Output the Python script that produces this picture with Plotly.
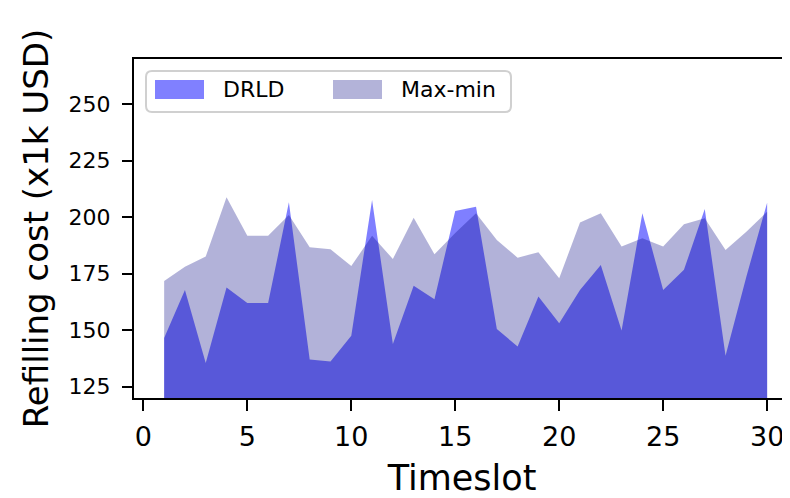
import plotly.graph_objects as go

timeslots = list(range(1, 31))
drld = [146.6, 167.8, 135.5, 168.9, 162.0, 162.0, 206.6, 137.0, 136.2, 147.5,
        207.6, 143.9, 169.7, 163.7, 202.7, 204.6, 150.5, 142.8, 164.9, 153.1,
        167.8, 178.9, 149.9, 201.7, 167.8, 176.7, 203.6, 138.7, 173.7, 206.4]
maxmin = [171.8, 178.1, 182.6, 208.8, 191.8, 191.8, 201.0, 186.7, 185.8, 178.4,
          191.8, 181.5, 199.8, 183.6, 193.0, 201.7, 189.9, 182.1, 184.5, 173.0,
          197.6, 201.7, 187.0, 190.7, 187.0, 196.9, 199.5, 185.5, 193.6, 202.4]
series_names = ["DRLD", "Max-min"]
series_colors = ["rgba(0,0,255,0.5)", "rgba(0,0,128,0.3)"]
legend_colors = ["#8080ff", "#b3b3d9"]
yticks = [125, 150, 175, 200, 225, 250]
xticks = [0, 5, 10, 15, 20, 25, 30]

FONT = "DejaVu Sans"
OFF = 8  # browser default body margin
W, H = 790 - OFF, 498 - OFF
L, R, T, B = 134 - OFF, 0, 59 - OFF, 100
PW, PH = W - L - R, H - T - B


def px(x):
    return (x - OFF - L) / PW


def py(y):
    return (H - B - (y - OFF)) / PH


fig = go.Figure()
for name, vals, col in zip(series_names, [drld, maxmin], series_colors):
    fig.add_trace(go.Scatter(x=timeslots, y=vals, name=name, mode="lines",
                             fill="tozeroy", fillcolor=col,
                             line=dict(width=0, color=col), showlegend=False))

# manual legend (matplotlib style)
x0, x1, y0, y1, r = 146, 511, 71, 112, 6
path = (f"M {px(x0 + r)},{py(y0)} L {px(x1 - r)},{py(y0)} "
        f"Q {px(x1)},{py(y0)} {px(x1)},{py(y0 + r)} L {px(x1)},{py(y1 - r)} "
        f"Q {px(x1)},{py(y1)} {px(x1 - r)},{py(y1)} L {px(x0 + r)},{py(y1)} "
        f"Q {px(x0)},{py(y1)} {px(x0)},{py(y1 - r)} L {px(x0)},{py(y0 + r)} "
        f"Q {px(x0)},{py(y0)} {px(x0 + r)},{py(y0)} Z")
shapes = [dict(type="path", path=path, xref="paper", yref="paper",
               line=dict(color="#d0d0d0", width=2), fillcolor="rgba(255,255,255,0.8)",
               layer="above")]
annotations = []
patch_x = [155, 333]
text_x = [221, 399]
for i, name in enumerate(series_names):
    shapes.append(dict(type="rect", xref="paper", yref="paper",
                       x0=px(patch_x[i]), x1=px(patch_x[i] + 49),
                       y0=py(99), y1=py(80), fillcolor=legend_colors[i],
                       line=dict(width=0), layer="above"))
    annotations.append(dict(text=name, xref="paper", yref="paper",
                            x=px(text_x[i]), y=py(90), xanchor="left", yanchor="middle",
                            showarrow=False, font=dict(family=FONT, size=22, color="black")))

fig.update_layout(
    width=W, height=H,
    margin=dict(l=L, r=R, t=T, b=B),
    paper_bgcolor="white", plot_bgcolor="white",
    font=dict(family=FONT, size=22, color="black"),
    showlegend=False,
    shapes=shapes, annotations=annotations,
    xaxis=dict(range=[-0.45, 31.1], tickvals=xticks, ticks="outside", ticklen=11,
               tickwidth=2, tickcolor="black", showline=True, linecolor="black",
               linewidth=2, mirror=True, showgrid=False, zeroline=False,
               automargin=False, ticklabelstandoff=3,
               tickfont=dict(family=FONT, size=27),
               title=dict(text="Timeslot", font=dict(family=FONT, size=35), standoff=14)),
    yaxis=dict(range=[120, 270], tickvals=yticks, ticks="outside", ticklen=10,
               tickwidth=2, tickcolor="black", showline=True, linecolor="black",
               linewidth=2, showgrid=False, zeroline=False,
               automargin=False, ticklabelstandoff=7,
               tickfont=dict(family=FONT, size=22),
               title=dict(text="Refilling cost (x1k USD)", font=dict(family=FONT, size=34), standoff=10)),
)

fig.write_html("out.html")
